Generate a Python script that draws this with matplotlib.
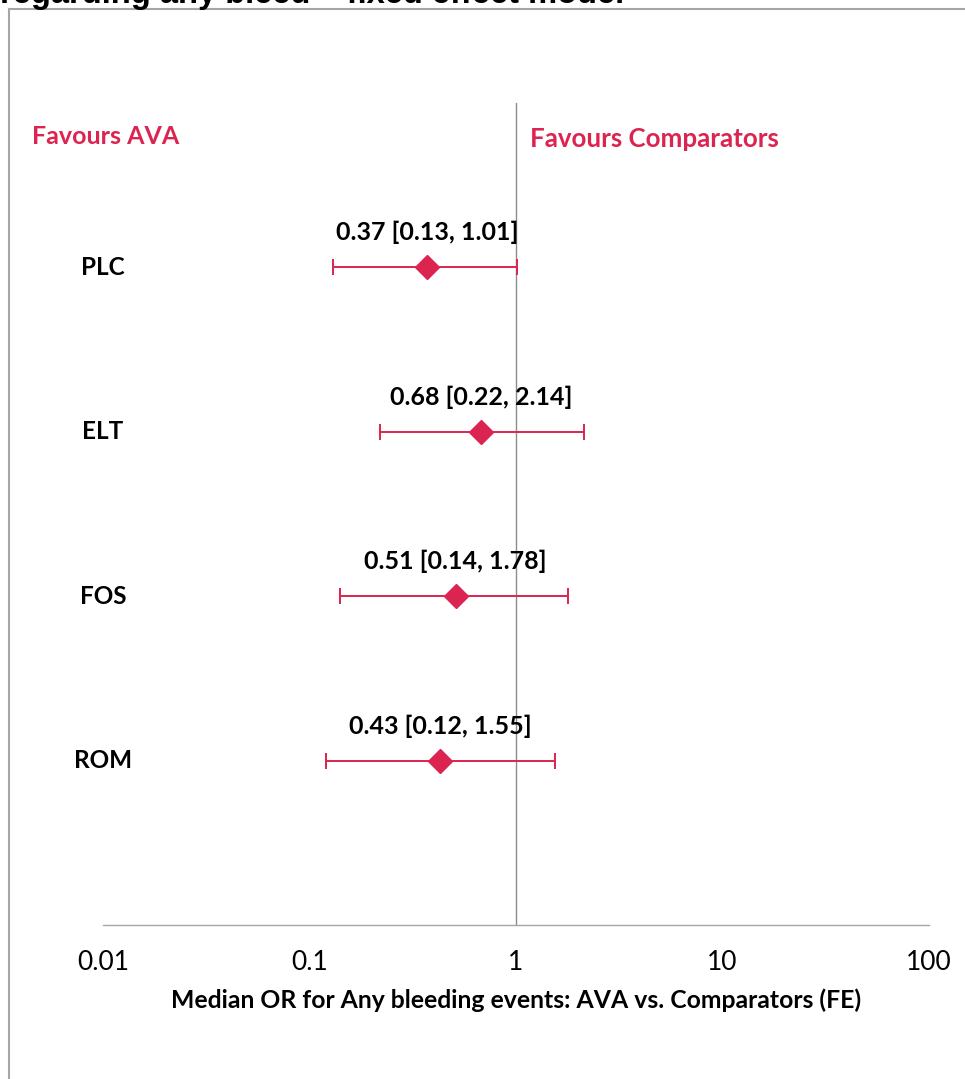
import matplotlib
matplotlib.use("Agg")
import matplotlib.pyplot as plt
from matplotlib.lines import Line2D

# Odds ratios (median, lower, upper) per comparator
categories = ["PLC", "ELT", "FOS", "ROM"]
medians = [0.37, 0.68, 0.51, 0.43]
lower = [0.13, 0.22, 0.14, 0.12]
upper = [1.01, 2.14, 1.78, 1.55]
xticks = [0.01, 0.1, 1, 10, 100]
xtick_labels = ["0.01", "0.1", "1", "10", "100"]

RED = "#DC2450"
GREY = "#A6A6A6"
FONT = ["Lato", "DejaVu Sans"]

W, H = 965, 1079
fig = plt.figure(figsize=(W / 100, H / 100), dpi=100)

def px(x0, y0, x1, y1):
    return [x0 / W, 1 - y1 / H, (x1 - x0) / W, (y1 - y0) / H]

ax = fig.add_axes(px(103, 103, 929, 925))
ax.set_xscale("log")
ax.set_xlim(0.01, 100)
ax.set_ylim(0, 5)

n = len(categories)
ypos = [n - i for i in range(n)]

for y, m, lo, hi in zip(ypos, medians, lower, upper):
    ax.errorbar([m], [y], xerr=[[m - lo], [hi - m]], fmt="none",
                ecolor=RED, elinewidth=1.4, capsize=6, capthick=1.4, zorder=3)
    ax.plot([m], [y], marker="D", color=RED, markersize=12.5, linestyle="none", zorder=4)
    ax.annotate(f"{m:.2f} [{lo:.2f}, {hi:.2f}]", (m, y), xytext=(0, 25),
                textcoords="offset points", ha="center", va="center",
                fontsize=18, fontweight="bold", family=FONT, color="black")

# Category labels at the left end of the axis
for y, c in zip(ypos, categories):
    ax.text(0.01, y, c, ha="center", va="center", fontsize=17.5,
            fontweight="bold", family=FONT, color="black")

ax.axvline(1, color="#8C8C8C", linewidth=1.0, zorder=1)

for s in ["top", "right", "left"]:
    ax.spines[s].set_visible(False)
ax.spines["bottom"].set_color(GREY)
ax.spines["bottom"].set_linewidth(1.0)
ax.set_yticks([])
ax.set_xticks(xticks)
ax.set_xticklabels(xtick_labels, fontsize=19, family=FONT)
ax.minorticks_off()
ax.tick_params(axis="x", length=0, pad=18)
ax.set_xlabel("Median OR for Any bleeding events: AVA vs. Comparators (FE)",
              fontsize=17.8, fontweight="bold", family=FONT, labelpad=10)

fig.text(32 / W, 1 - 137 / H, "Favours AVA", ha="left", va="center",
         fontsize=18, fontweight="bold", family=FONT, color=RED)
fig.text(530 / W, 1 - 139 / H, "Favours Comparators", ha="left", va="center",
         fontsize=18.6, fontweight="bold", family=FONT, color=RED)

# Outer frame (left and top edges)
fig.add_artist(Line2D([9 / W, 9 / W], [0, 1 - 9 / H], transform=fig.transFigure,
                      color=GREY, linewidth=1.5))
fig.add_artist(Line2D([9 / W, 1], [1 - 9 / H, 1 - 9 / H], transform=fig.transFigure,
                      color=GREY, linewidth=1.5))

fig.text(0, 1 - 3 / H, "regarding any bleed \u2013 fixed effect model", ha="left",
         va="baseline", fontsize=23.5, fontweight="bold",
         family=["Liberation Sans", "DejaVu Sans"], color="black")

fig.savefig("out.png", dpi=100)
